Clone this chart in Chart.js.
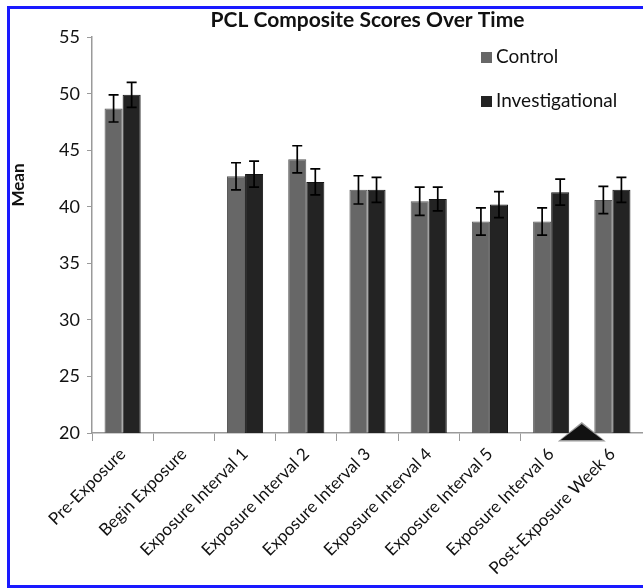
<!DOCTYPE html>
<html>
<head>
<meta charset="utf-8">
<script src="https://cdn.jsdelivr.net/npm/chart.js@4.4.1/dist/chart.umd.min.js"></script>
<style>
  html, body { margin: 0; padding: 0; background: #fff; }
  #wrap { position: relative; width: 643px; height: 588px; }
  #frame {
    position: absolute; left: 7px; top: 6px; right: -10px; bottom: 0px;
    border: 3px solid #1a1aff; pointer-events: none;
  }
</style>
</head>
<body>
<div id="wrap">
  <canvas id="myCanvas"></canvas>
  <div id="frame"></div>
</div>
<script>
const labels = [
  "Pre-Exposure",
  "Begin Exposure",
  "Exposure Interval 1",
  "Exposure Interval 2",
  "Exposure Interval 3",
  "Exposure Interval 4",
  "Exposure Interval 5",
  "Exposure Interval 6",
  "Post-Exposure Week 6",
];
const control = [48.7, null, 42.7, 44.2, 41.5, 40.5, 38.7, 38.7, 40.6];
const controlErr = [1.2, null, 1.2, 1.2, 1.25, 1.25, 1.2, 1.2, 1.2];
const investigational = [49.9, null, 42.9, 42.2, 41.5, 40.7, 40.2, 41.3, 41.5];
const investigationalErr = [1.1, null, 1.15, 1.15, 1.1, 1.05, 1.15, 1.15, 1.1];
const yTicks = [20, 25, 30, 35, 40, 45, 50, 55];
// triangle sits on the boundary between Exposure Interval 6 and Post-Exposure
const markerAt = 7.5;

const FONT = "Lato, 'Open Sans', sans-serif";

const errorBars = {
  id: "errorBars",
  afterDatasetsDraw(chart) {
    const { ctx } = chart;
    const y = chart.scales.y;
    ctx.save();
    ctx.strokeStyle = "#000";
    ctx.lineWidth = 1.7;
    chart.data.datasets.forEach((ds, di) => {
      const meta = chart.getDatasetMeta(di);
      meta.data.forEach((bar, i) => {
        const v = ds.data[i];
        const e = ds.errors[i];
        if (v == null || e == null) return;
        const top = y.getPixelForValue(v + e);
        const bot = y.getPixelForValue(v - e);
        const x = bar.x;
        ctx.beginPath();
        ctx.moveTo(x, top); ctx.lineTo(x, bot);
        ctx.moveTo(x - 5, top); ctx.lineTo(x + 5, top);
        ctx.moveTo(x - 5, bot); ctx.lineTo(x + 5, bot);
        ctx.stroke();
      });
    });
    ctx.restore();
  },
};

const extras = {
  id: "extras",
  afterDraw(chart) {
    const { ctx, chartArea } = chart;
    const x = chart.scales.x;
    ctx.save();
    // y-axis label
    ctx.fillStyle = "#111";
    ctx.font = "bold 17px " + FONT;
    ctx.textAlign = "center";
    ctx.textBaseline = "middle";
    ctx.translate(19, 185);
    ctx.rotate(-Math.PI / 2);
    ctx.fillText("Mean", 0, 0);
    ctx.restore();

    // legend inside the plot
    ctx.save();
    ctx.font = "19px " + FONT;
    ctx.textBaseline = "middle";
    ctx.textAlign = "left";
    const rows = [57, 101];
    chart.data.datasets.forEach((ds, i) => {
      ctx.fillStyle = ds.backgroundColor;
      ctx.fillRect(481, rows[i] - 5, 11, 11);
      ctx.fillStyle = "#111";
      ctx.fillText(ds.label, 496, rows[i]);
    });
    ctx.restore();

    // triangle marker on the x axis
    const cx = x.getPixelForValue(markerAt);
    const base = chartArea.bottom + 7;
    ctx.save();
    ctx.fillStyle = "#999";
    ctx.beginPath();
    ctx.moveTo(cx - 24, base + 1.5);
    ctx.lineTo(cx, base - 18);
    ctx.lineTo(cx + 24, base + 1.5);
    ctx.closePath();
    ctx.fill();
    ctx.fillStyle = "#111";
    ctx.beginPath();
    ctx.moveTo(cx - 21, base);
    ctx.lineTo(cx, base - 16);
    ctx.lineTo(cx + 21, base);
    ctx.closePath();
    ctx.fill();
    ctx.restore();
  },
};

new Chart(document.getElementById("myCanvas"), {
  type: "bar",
  data: {
    labels: labels,
    datasets: [
      {
        label: "Control",
        data: control,
        errors: controlErr,
        backgroundColor: "#676767",
        borderColor: "#5a5a5a",
        borderWidth: 1,
      },
      {
        label: "Investigational",
        data: investigational,
        errors: investigationalErr,
        backgroundColor: "#232323",
        borderColor: "#151515",
        borderWidth: 1,
      },
    ],
  },
  options: {
    responsive: true,
    maintainAspectRatio: false,
    animation: false,
    devicePixelRatio: 1,
    layout: { padding: { top: 0, left: 0, right: 0, bottom: 0 } },
    datasets: {
      bar: { categoryPercentage: 0.59, barPercentage: 1 },
    },
    plugins: {
      legend: { display: false },
      tooltip: { enabled: false },
      title: {
        display: true,
        text: "PCL Composite Scores Over Time",
        fullSize: false,
        color: "#111",
        font: { family: FONT, size: 21, weight: "bold" },
        padding: { top: 8, bottom: 4 },
      },
    },
    scales: {
      x: {
        afterFit: (s) => { s.height = 155; },
        grid: {
          offset: true,
          drawOnChartArea: false,
          drawTicks: true,
          tickLength: 8,
          color: "#9a9a9a",
        },
        border: { color: "#9a9a9a", width: 1.5 },
        ticks: {
          autoSkip: false,
          minRotation: 45,
          maxRotation: 45,
          padding: 3,
          color: "#111",
          font: { family: FONT, size: 17 },
        },
      },
      y: {
        min: 20,
        max: 55,
        afterFit: (s) => { s.width = 92; },
        afterBuildTicks: (s) => { s.ticks = yTicks.map((v) => ({ value: v })); },
        grid: {
          drawOnChartArea: false,
          drawTicks: true,
          tickLength: 5,
          color: "#9a9a9a",
        },
        border: { color: "#9a9a9a", width: 1.5 },
        ticks: {
          padding: 7,
          color: "#111",
          font: { family: FONT, size: 18 },
        },
      },
    },
  },
  plugins: [errorBars, extras],
});
</script>
</body>
</html>
